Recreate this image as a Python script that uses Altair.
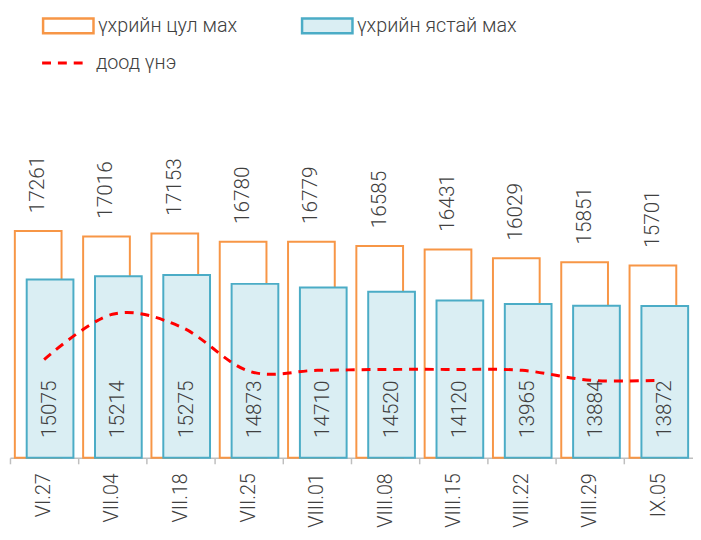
import altair as alt
import pandas as pd

dates = ["VI.27", "VII.04", "VII.18", "VII.25", "VIII.01", "VIII.08", "VIII.15", "VIII.22", "VIII.29", "IX.05"]
boneless = [17261, 17016, 17153, 16780, 16779, 16585, 16431, 16029, 15851, 15701]
bone_in = [15075, 15214, 15275, 14873, 14710, 14520, 14120, 13965, 13884, 13872]
floor_price = [11450, 13500, 12930, 10920, 10960, 11000, 11000, 10960, 10510, 10510]

S1 = "үхрийн цул мах"
S2 = "үхрийн ястай мах"
S3 = "доод үнэ"

df = pd.DataFrame({
    "date": dates,
    "boneless": boneless,
    "bone_in": bone_in,
    "floor": floor_price,
    "s1": S1,
    "s2": S2,
    "s3": S3,
})

FONT = "Roboto"
TXT = "#404040"

x_enc = alt.X("date:N", sort=dates, scale=alt.Scale(paddingInner=0, paddingOuter=0), title=None, axis=None)
x_ticks = alt.X("date:N", sort=dates, scale=alt.Scale(paddingInner=0, paddingOuter=0), title=None,
                axis=alt.Axis(orient="bottom", labels=False, ticks=True, tickSize=6, tickColor="#BFBFBF",
                              tickWidth=1.5, domain=True, domainColor="#BFBFBF", domainWidth=1.5,
                              bandPosition=0, grid=False))
x_labels = alt.X("date:N", sort=dates, scale=alt.Scale(paddingInner=0, paddingOuter=0), title=None,
                 axis=alt.Axis(orient="bottom", labels=True, ticks=False, tickSize=0, domain=False,
                               labelAngle=270, labelAlign="right", labelBaseline="middle", labelPadding=15,
                               labelFont=FONT, labelFontWeight=300, labelFontSize=20, labelColor=TXT,
                               labelLimit=200, labelOverlap=False, grid=False))
y_scale = alt.Scale(domain=[7000, 21000], nice=False, zero=False)
y_enc = alt.Y("boneless:Q", scale=y_scale, axis=None)

base = alt.Chart(df)

bars1 = base.mark_bar(width=alt.RelativeBandSize(0.684), xOffset=-6, fill="white", strokeWidth=2).encode(
    x=x_ticks,
    y=y_enc,
    y2=alt.datum(7000),
    stroke=alt.Stroke("s1:N", scale=alt.Scale(range=["#F79646"]),
                      legend=alt.Legend(title=None, orient="none", legendX=31, legendY=-134,
                                        symbolType="M-1,-1H5.8V1H-1Z", symbolSize=225,
                                        symbolFillColor="white", symbolStrokeWidth=2.5,
                                        labelOffset=38, labelFont=FONT, labelFontWeight=300,
                                        labelFontSize=20, labelColor=TXT, labelLimit=300)),
)

bars2 = base.mark_bar(width=alt.RelativeBandSize(0.684), xOffset=6, stroke="#4BACC6", strokeWidth=2).encode(
    x=x_labels,
    y=alt.Y("bone_in:Q", scale=y_scale, axis=None),
    y2=alt.datum(7000),
    fill=alt.Fill("s2:N", scale=alt.Scale(range=["#DAEEF3"]),
                  legend=alt.Legend(title=None, orient="none", legendX=293, legendY=-134,
                                    symbolType="M-1,-1H5.8V1H-1Z", symbolSize=225,
                                    symbolStrokeColor="#4BACC6", symbolStrokeWidth=2.5,
                                    labelOffset=38, labelFont=FONT, labelFontWeight=300,
                                    labelFontSize=20, labelColor=TXT, labelLimit=300)),
)

line = base.mark_line(interpolate="cardinal", color="#FF0000", strokeWidth=3).encode(
    x=x_enc,
    y=alt.Y("floor:Q", scale=y_scale, axis=None),
    strokeDash=alt.StrokeDash("s3:N", scale=alt.Scale(range=[[9, 7]]),
                              legend=alt.Legend(title=None, orient="none", legendX=31, legendY=-109,
                                                symbolType="stroke", symbolSize=1764,
                                                symbolStrokeColor="#FF0000", symbolStrokeWidth=3,
                                                labelOffset=11, labelFont=FONT, labelFontWeight=300,
                                                labelFontSize=20, labelColor=TXT, labelLimit=300)),
)

top_labels = base.mark_text(angle=270, align="left", baseline="middle", dx=18, xOffset=-6,
                            font=FONT, fontWeight=300, fontSize=21, color=TXT).encode(
    x=x_enc,
    y=y_enc,
    text=alt.Text("boneless:Q", format="d"),
)

inner_labels = base.mark_text(angle=270, align="left", baseline="middle", dx=20, xOffset=6,
                              font=FONT, fontWeight=300, fontSize=21, color=TXT).encode(
    x=x_enc,
    y=alt.YDatum(7000, scale=y_scale, axis=None),
    text=alt.Text("bone_in:Q", format="d"),
)

chart = alt.layer(bars1, bars2, line, top_labels, inner_labels).resolve_axis(x="independent").properties(
    width=691,
    height=313,
    background="white",
    autosize=alt.AutoSizeParams(type="none"),
    padding={"left": 2, "top": 139, "right": 0, "bottom": 80},
).configure_view(stroke=None)

chart.save("out.html", embed_options={"renderer": "svg", "actions": False})
